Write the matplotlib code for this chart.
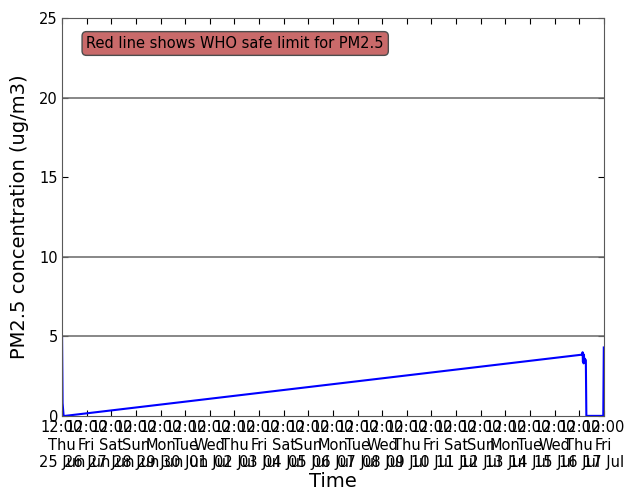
import pandas as pd
import matplotlib
matplotlib.use('Agg')
import matplotlib.pyplot as plt
import matplotlib.dates as mdates

# PM2.5 readings (time, ug/m3)
times = pd.to_datetime([
    '2015-06-25 12:00', '2015-06-25 12:30', '2015-06-25 13:30', '2015-06-25 15:00',
    '2015-07-16 15:00', '2015-07-16 15:20', '2015-07-16 15:40', '2015-07-16 16:00',
    '2015-07-16 16:20', '2015-07-16 16:40', '2015-07-16 17:00', '2015-07-16 17:20',
    '2015-07-16 18:30', '2015-07-16 19:00', '2015-07-17 11:30', '2015-07-17 12:00',
])
pm25 = [4.9, 0.8, 0.0, 0.0,
        3.85, 4.0, 3.4, 3.9, 3.3, 3.8, 3.4, 3.6,
        3.5, 0.0, 0.0, 4.3]

ref_lines = [5, 10, 20]
note = 'Red line shows WHO safe limit for PM2.5'

fig = plt.figure(figsize=(6.27, 4.91), dpi=100)
ax = fig.add_axes([0.099, 0.153, 0.864, 0.81])

for y in ref_lines:
    ax.axhline(y, color='0.45', lw=1.2)
ax.plot(times, pm25, color='blue', lw=1.5)

ax.set_xlim(times[0], times[-1])
ax.set_ylim(0, 25)
ax.set_yticks([0, 5, 10, 15, 20, 25])
ax.xaxis.set_major_locator(mdates.HourLocator(byhour=12))
ax.xaxis.set_major_formatter(mdates.DateFormatter('%H:%M\n%a\n%d %b'))
ax.tick_params(direction='in', top=True, right=True, labelsize=10.5, length=4, pad=3)
for lbl in ax.get_xticklabels():
    lbl.set_linespacing(1.22)
for s in ax.spines.values():
    s.set_color('0.35')

ax.set_xlabel('Time', fontsize=14, labelpad=1)
ax.set_ylabel('PM2.5 concentration (ug/m3)', fontsize=14, labelpad=7)

ax.text(0.045, 0.925, note, transform=ax.transAxes, fontsize=10.5,
        bbox=dict(boxstyle='round,pad=0.3', facecolor='#c96a6a', edgecolor='0.3'))

fig.savefig('out.png', dpi=100, facecolor='white')
